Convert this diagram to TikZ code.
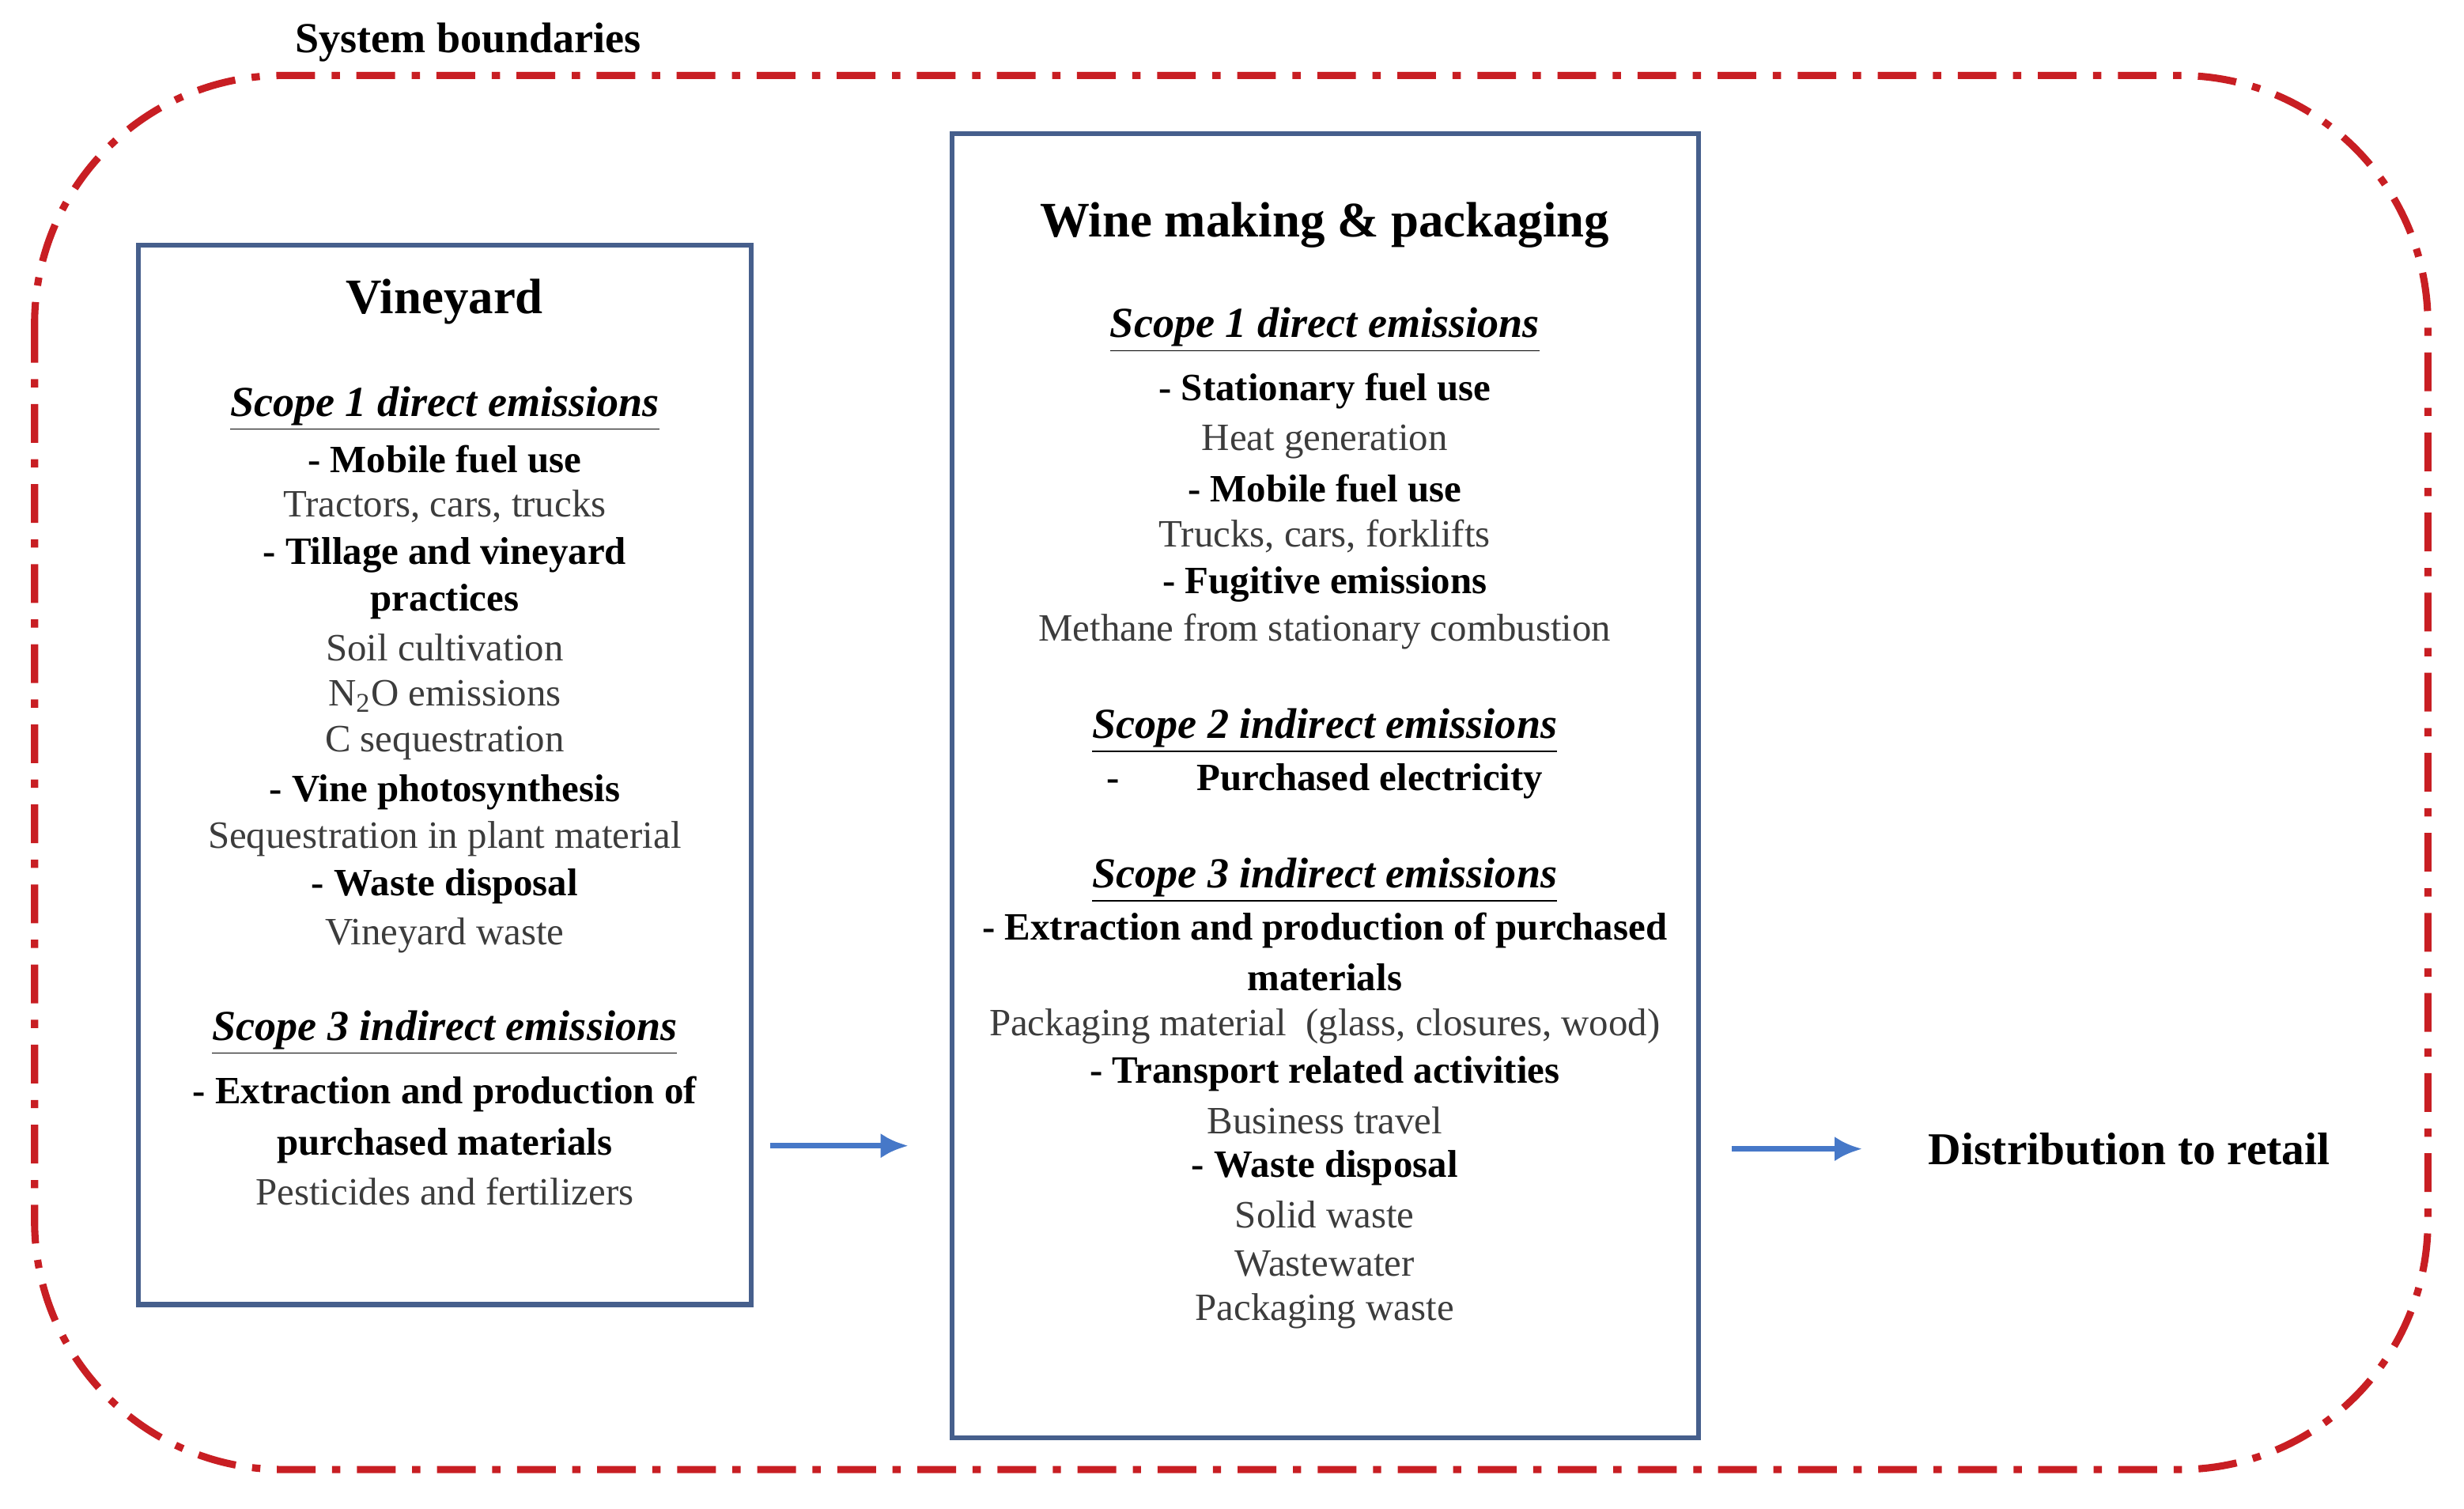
\documentclass[tikz,border=0pt]{standalone}
\usepackage{fontspec}
\setmainfont{Liberation Serif}
\usetikzlibrary{arrows.meta}
\definecolor{bred}{RGB}{200,30,35}
\definecolor{boxc}{RGB}{70,95,140}
\definecolor{arr}{RGB}{70,120,200}
\definecolor{txt}{RGB}{60,60,60}
\begin{document}
\begin{tikzpicture}[x=0.02cm,y=-0.02cm,
  reg/.style={font=\fontsize{14}{16}\selectfont,text=txt,inner sep=0pt},
  bld/.style={font=\fontsize{14}{16}\selectfont\bfseries,text=black,inner sep=0pt},
  scp/.style={font=\fontsize{15.5}{18}\selectfont\bfseries\itshape,text=black,inner sep=0pt},
  ttl/.style={font=\fontsize{18}{20}\selectfont\bfseries,text=black,inner sep=0pt},
  box/.style={draw=boxc,line width=1.8pt},
  flow/.style={draw=arr,line width=2pt,-{Latex[length=10pt,width=9pt]}}]
\useasboundingbox (0,0) rectangle (1568,960);
\draw[bred,line width=2.6pt,rounded corners=90,dash pattern=on 14pt off 6pt on 3pt off 6pt] (22,48) rectangle (1545,935);
\node[ttl,font=\fontsize{15.5}{18}\selectfont\bfseries] (sb) at (298,27) {System boundaries};
\node[box,minimum width=390*0.02cm,minimum height=674*0.02cm] (vb) at (283,493) {};
\node[box,minimum width=475*0.02cm,minimum height=830*0.02cm] (wb) at (843.5,500) {};
% Vineyard
\node[ttl] (v0) at (283,192) {Vineyard};
\node[scp] (v1) at (283,260) {\underline{Scope 1 direct emissions}};
\node[bld] (v2) at (283,292) {- Mobile fuel use};
\node[reg] (v3) at (283,322) {Tractors, cars, trucks};
\node[bld] (v4) at (283,353) {- Tillage and vineyard};
\node[bld] (v5) at (283,383) {practices};
\node[reg] (v6) at (283,412) {Soil cultivation};
\node[reg] (v7) at (283,443) {N\textsubscript{2}O emissions};
\node[reg] (v8) at (283,473) {C sequestration};
\node[bld] (v9) at (283,504) {- Vine photosynthesis};
\node[reg] (v10) at (283,534) {Sequestration in plant material};
\node[bld] (v11) at (283,564) {- Waste disposal};
\node[reg] (v12) at (283,595) {Vineyard waste};
\node[scp] (v13) at (283,657) {\underline{Scope 3 indirect emissions}};
\node[bld] (v14) at (283,696) {- Extraction and production of};
\node[bld] (v15) at (283,729) {purchased materials};
\node[reg] (v16) at (283,758) {Pesticides and fertilizers};
% Wine
\node[ttl] (w0) at (843,143) {Wine making \& packaging};
\node[scp] (w1) at (843,210) {\underline{Scope 1 direct emissions}};
\node[bld] (w2) at (843,249) {- Stationary fuel use};
\node[reg] (w3) at (843,281) {Heat generation};
\node[bld] (w4) at (843,311) {- Mobile fuel use};
\node[reg] (w5) at (843,341) {Trucks, cars, forklifts};
\node[bld] (w6) at (843,372) {- Fugitive emissions};
\node[reg] (w7) at (843,402) {Methane from stationary combustion};
\node[scp] (w8) at (843,465) {\underline{Scope 2 indirect emissions}};
\node[bld] (w9) at (843,497) {-\hspace{2em}Purchased electricity};
\node[scp] (w10) at (843,560) {\underline{Scope 3 indirect emissions}};
\node[bld] (w11) at (843,592) {- Extraction and production of purchased};
\node[bld] (w12) at (843,622) {materials};
\node[reg] (w13) at (843,653) {Packaging material\ \ (glass, closures, wood)};
\node[bld] (w14) at (843,683) {- Transport related activities};
\node[reg] (w15) at (843,713) {Business travel};
\node[bld] (w16) at (843,743) {- Waste disposal};
\node[reg] (w17) at (843,773) {Solid waste};
\node[reg] (w18) at (843,804) {Wastewater};
\node[reg] (w19) at (843,834) {Packaging waste};
\node[ttl,font=\fontsize{16.5}{18}\selectfont\bfseries] (dr) at (1355,731) {Distribution to retail};
\coordinate (a1) at (490,729);
\coordinate (a2) at (578,729);
\coordinate (b1) at (1102,731);
\coordinate (b2) at (1185,731);
\draw[flow] (a1) -- (a2);
\draw[flow] (b1) -- (b2);
\end{tikzpicture}
\end{document}
